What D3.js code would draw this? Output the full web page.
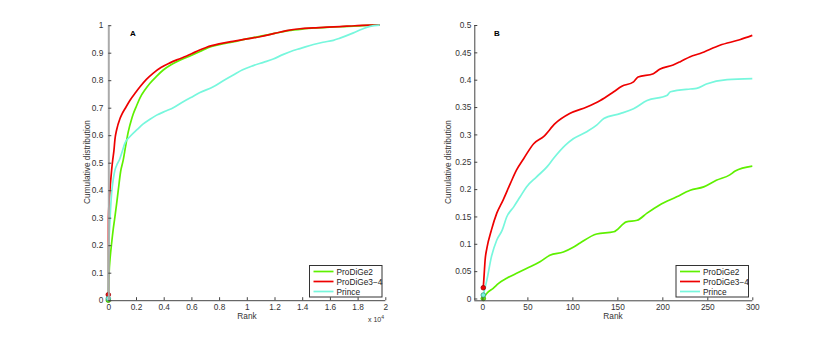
<!DOCTYPE html>
<html><head><meta charset="utf-8">
<script src="https://cdn.jsdelivr.net/npm/d3@7/dist/d3.min.js"></script>
<style>
body{margin:0;background:#fff;}
svg{display:block;font-family:"Liberation Sans",Arial,Helvetica,sans-serif;}
</style></head><body>
<svg id="c" width="830" height="338"></svg>
<script>
// ---- Data ----
const seriesNames = ["ProDiGe2", "ProDiGe3\u22124", "Prince"];
// Panel A: ranks (actual rank), cumulative distribution
const a_prodige2_rank = [0,10,60,120,240,360,480,600,720,890,1080,1250,1440,1690,1800,2050,2290,2650,3010,3500,3970,4500,4940,5500,5900,6620,7200,8000,9000,10000,11000,12000,13000,14000,15000,16000,17000,18000,19000,19600];
const a_prodige2_val  = [0,0.01,0.10,0.146,0.207,0.26,0.304,0.35,0.40,0.468,0.51,0.56,0.612,0.66,0.677,0.708,0.736,0.765,0.789,0.815,0.837,0.855,0.867,0.880,0.888,0.904,0.918,0.929,0.939,0.950,0.960,0.970,0.980,0.986,0.990,0.993,0.995,0.997,1.0,1.0];
const a_prodige34_rank = [0,10,120,240,320,410,480,600,840,970,1250,1570,2000,2290,2750,3250,3800,4450,5000,5660,6300,7100,8000,9000,10000,10950,12000,12880,13840,14800,15800,16730,17800,19000,19600];
const a_prodige34_val  = [0.02,0.30,0.40,0.473,0.51,0.546,0.585,0.619,0.66,0.675,0.70,0.727,0.757,0.776,0.803,0.826,0.846,0.863,0.875,0.888,0.903,0.920,0.932,0.941,0.950,0.958,0.970,0.980,0.987,0.990,0.993,0.995,0.998,1.0,1.0];
const a_prince_rank = [0,10,80,160,240,360,480,600,840,970,1200,1600,2050,2500,3010,3490,4200,4690,5410,6140,6620,7580,8300,9030,9700,10470,11200,11910,12600,13360,13840,14810,15500,16250,16730,17700,18300,18900,19600];
const a_prince_val  = [0.006,0.18,0.25,0.33,0.389,0.44,0.473,0.49,0.515,0.535,0.571,0.597,0.619,0.64,0.658,0.673,0.689,0.700,0.722,0.742,0.755,0.776,0.798,0.819,0.838,0.853,0.865,0.877,0.893,0.908,0.915,0.930,0.938,0.945,0.953,0.972,0.985,0.996,1.0];
// Panel B: first 300 ranks
const b_prodige2_rank = [1,5,12,18,27,38,49,64,75,90,101,109,127,146,160,172,183,197,216,231,246,260,275,281,300];
const b_prodige2_val  = [0,0.0095,0.0186,0.0277,0.037,0.046,0.055,0.067,0.079,0.085,0.0935,0.102,0.118,0.122,0.140,0.143,0.156,0.171,0.186,0.198,0.204,0.216,0.226,0.233,0.242];
const b_prodige34_rank = [1,2,3,5,10,16,23,31,38,46,57,68,81,97,116,131,146,155,168,173,190,197,212,220,231,242,264,286,300];
const b_prodige34_val  = [0.0197,0.045,0.070,0.092,0.125,0.156,0.180,0.210,0.235,0.256,0.283,0.296,0.320,0.338,0.350,0.362,0.378,0.388,0.396,0.405,0.411,0.419,0.427,0.433,0.442,0.448,0.463,0.473,0.481];
const b_prince_rank = [1,5,10,16,22,27,35,42,49,60,72,79,92,101,116,127,135,153,168,183,205,209,231,238,249,272,300];
const b_prince_val  = [0.0064,0.034,0.076,0.107,0.125,0.149,0.168,0.186,0.204,0.222,0.241,0.256,0.280,0.292,0.305,0.317,0.329,0.338,0.347,0.362,0.371,0.378,0.383,0.384,0.392,0.400,0.402];
// Tick values
const a_xticks = [0,2000,4000,6000,8000,10000,12000,14000,16000,18000,20000];
const a_yticks = [0,0.1,0.2,0.3,0.4,0.5,0.6,0.7,0.8,0.9,1];
const b_xticks = [0,50,100,150,200,250,300];
const b_yticks = [0,0.05,0.1,0.15,0.2,0.25,0.3,0.35,0.4,0.45,0.5];
const colors = ["#5ef000", "#ee0000", "#77f7dd"];
const markerStroke = ["#3a9a00", "#990000", "#3a9a88"];

const svg = d3.select("#c");

function panel(opts){
  const g = svg.append("g");
  const x = d3.scaleLinear().domain(opts.xdom).range(opts.xr);
  const y = d3.scaleLinear().domain(opts.ydom).range(opts.yr);
  const line = d3.line().x(d=>x(d[0])).y(d=>y(d[1])).curve(d3.curveMonotoneX);
  opts.series.forEach((s,i)=>{
    const pts = s.rank.map((r,k)=>[r, s.val[k]]);
    g.append("path").datum(pts).attr("d", line)
      .attr("fill","none").attr("stroke",colors[i]).attr("stroke-width",1.7)
      .attr("stroke-linejoin","round");
  });
  opts.series.forEach((s,i)=>{
    g.append("circle").attr("cx", x(s.rank[0])).attr("cy", y(s.val[0])).attr("r", 2.3)
      .attr("fill", colors[i]).attr("stroke", markerStroke[i]).attr("stroke-width", 0.8);
  });
  const xAxis = d3.axisBottom(x).tickValues(opts.xticks).tickSize(-3).tickPadding(4).tickFormat(opts.xfmt);
  const yAxis = d3.axisLeft(y).tickValues(opts.yticks).tickSize(-3).tickPadding(opts.ypad).tickFormat(opts.yfmt);
  const gx = g.append("g").attr("transform",`translate(0,${opts.yr[0]})`).call(xAxis);
  const gy = g.append("g").attr("transform",`translate(${opts.xr[0]},0)`).call(yAxis);
  [gx,gy].forEach(a=>{
    a.select(".domain").attr("stroke","#444").attr("stroke-width",1);
    a.selectAll(".tick line").attr("stroke","#444");
    a.selectAll("text").attr("font-size",8.3).attr("fill","#333")
      .attr("font-family","'Liberation Sans',Arial,sans-serif");
  });
  if (opts.thickY) gy.select(".domain").attr("stroke","#aaa").attr("stroke-width",2);
  gx.selectAll(".domain").attr("d", `M${opts.xr[0]},0.5H${opts.xr[1]}`);
  gy.selectAll(".domain").attr("d", `M0.5,${opts.yr[0]}V${opts.yr[1]}`);
  g.append("text").attr("x", opts.rankX).attr("y", 319).attr("text-anchor","middle")
    .attr("font-size",8.3).attr("fill","#333").text("Rank");
  g.append("text").attr("transform",`translate(${opts.ylabX},162) rotate(-90)`)
    .attr("text-anchor","middle").attr("font-size",8.3).attr("fill","#333").text("Cumulative distribution");
  g.append("text").attr("x", opts.letterX).attr("y", 36).attr("text-anchor","middle")
    .attr("font-size",8).attr("font-weight","bold").attr("fill","#000").text(opts.letter);
  const lg = g.append("g").attr("transform",`translate(${opts.legX},265.5)`);
  lg.append("rect").attr("width",72.5).attr("height",31.5).attr("fill","#fff").attr("stroke","#333").attr("stroke-width",1);
  seriesNames.forEach((n,i)=>{
    const yy = 6 + i*10;
    lg.append("line").attr("x1",4).attr("x2",24).attr("y1",yy).attr("y2",yy)
      .attr("stroke",colors[i]).attr("stroke-width",1.7);
    lg.append("text").attr("x",27).attr("y",yy+3).attr("font-size",8.3).attr("fill","#222").text(n);
  });
  return g;
}

const gA = panel({
  xdom:[0,20000], xr:[108.3,385.3], ydom:[0,1], yr:[300.2,25.2],
  xticks:a_xticks, yticks:a_yticks, xfmt:d=>d3.format("~g")(d/10000), yfmt:d3.format("~g"), ypad:5,
  series:[{rank:a_prodige2_rank,val:a_prodige2_val},{rank:a_prodige34_rank,val:a_prodige34_val},{rank:a_prince_rank,val:a_prince_val}],
  rankX:247, ylabX:90, letterX:133, letter:"A", legX:309.5, thickY:true
});
const mult = gA.append("text").attr("x",368).attr("y",322).attr("font-size",7).attr("fill","#333");
mult.append("tspan").text("x 10");
mult.append("tspan").attr("dy",-3).attr("font-size",5).text("4");

panel({
  xdom:[-9,300], xr:[474.3,752.3], ydom:[-0.0033,0.5], yr:[300.3,25],
  xticks:b_xticks, yticks:b_yticks, xfmt:d3.format("~g"), yfmt:d3.format("~g"), ypad:3,
  series:[{rank:b_prodige2_rank,val:b_prodige2_val},{rank:b_prodige34_rank,val:b_prodige34_val},{rank:b_prince_rank,val:b_prince_val}],
  rankX:613, ylabX:451, letterX:497, letter:"B", legX:676, thickY:false
});
</script></body></html>
